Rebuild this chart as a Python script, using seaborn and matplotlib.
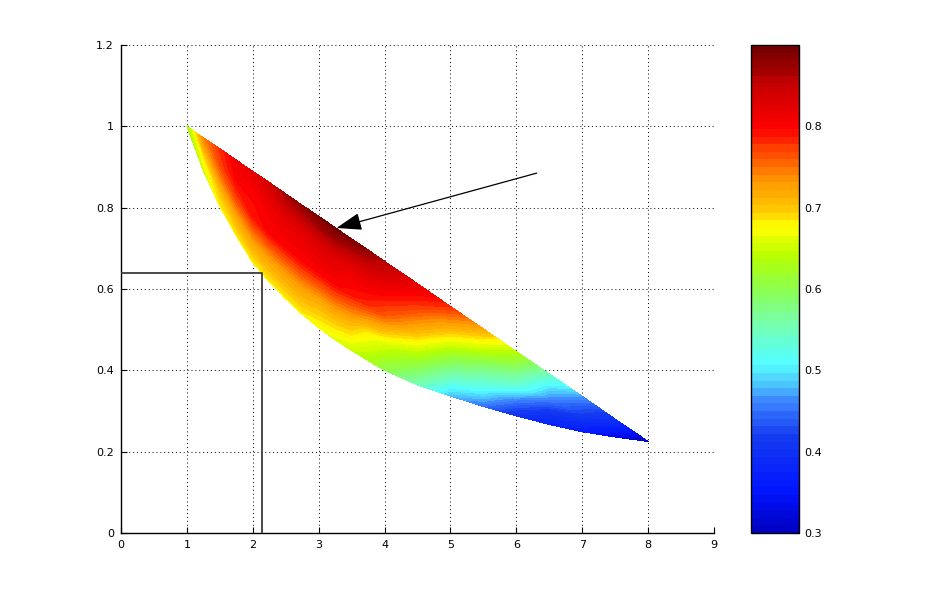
import numpy as np
import matplotlib
matplotlib.use("Agg")
import matplotlib.pyplot as plt
from matplotlib.colors import LinearSegmentedColormap
import seaborn as sns

# ---------------- data ----------------
x_stations = [1.0, 1.25, 1.5, 1.75, 2.0, 2.25, 2.5, 2.75, 3.0, 3.25, 3.5, 3.75, 4.0,
              4.5, 5.0, 5.5, 6.0, 6.5, 7.0, 7.5, 8.0]
lower_edge = [1.0, 0.891, 0.803, 0.731, 0.665, 0.617, 0.576, 0.538, 0.505, 0.475, 0.449, 0.424,
              0.400, 0.364, 0.337, 0.311, 0.288, 0.267, 0.249, 0.236, 0.225]
upper_edge = [1.0, 0.972, 0.945, 0.917, 0.889, 0.862, 0.834, 0.806, 0.779, 0.751, 0.723, 0.696,
              0.668, 0.613, 0.557, 0.502, 0.446, 0.391, 0.336, 0.280, 0.225]
fractions = [0.0, 0.25, 0.5, 0.75, 1.0]   # position across the band, lower -> upper
val_f0   = [0.62, 0.65, 0.68, 0.68, 0.68, 0.68, 0.68, 0.68, 0.67, 0.66, 0.65, 0.63, 0.60,
            0.55, 0.48, 0.45, 0.40, 0.38, 0.36, 0.33, 0.30]
val_f25  = [0.62, 0.67, 0.70, 0.72, 0.73, 0.73, 0.73, 0.73, 0.72, 0.72, 0.71, 0.68, 0.66,
            0.62, 0.56, 0.52, 0.46, 0.41, 0.39, 0.35, 0.30]
val_f50  = [0.62, 0.69, 0.74, 0.77, 0.79, 0.80, 0.80, 0.80, 0.80, 0.80, 0.79, 0.78, 0.76,
            0.70, 0.63, 0.58, 0.54, 0.46, 0.42, 0.37, 0.30]
val_f75  = [0.62, 0.72, 0.77, 0.80, 0.80, 0.81, 0.82, 0.82, 0.83, 0.83, 0.82, 0.82, 0.81,
            0.77, 0.71, 0.65, 0.59, 0.50, 0.44, 0.39, 0.30]
val_f100 = [0.62, 0.74, 0.78, 0.81, 0.82, 0.84, 0.87, 0.88, 0.89, 0.90, 0.89, 0.88, 0.86,
            0.82, 0.78, 0.72, 0.64, 0.55, 0.47, 0.40, 0.30]

cross_x = [0.0, 2.14, 2.14]
cross_y = [0.64, 0.64, 0.0]
arrow_tail = (6.31, 0.885)
arrow_head = (3.27, 0.75)

x_ticks = [0, 1, 2, 3, 4, 5, 6, 7, 8, 9]
x_labels = ["0", "1", "2", "3", "4", "5", "6", "7", "8", "9"]
y_ticks = [0, 0.2, 0.4, 0.6, 0.8, 1.0, 1.2]
y_labels = ["0", "0.2", "0.4", "0.6", "0.8", "1", "1.2"]
cbar_ticks = [0.3, 0.4, 0.5, 0.6, 0.7, 0.8]
cbar_labels = ["0.3", "0.4", "0.5", "0.6", "0.7", "0.8"]
clim = (0.3, 0.9)

# colour anchors of the reference colour bar (value, RGB 0-255)
cmap_values = [0.30, 0.35, 0.42, 0.46, 0.49, 0.51, 0.56, 0.60, 0.64, 0.675, 0.70, 0.74, 0.77, 0.80, 0.85, 0.90]
cmap_rgb = [(0, 0, 190), (0, 20, 255), (20, 60, 240), (60, 130, 255), (80, 215, 255), (85, 255, 255),
            (120, 255, 170), (140, 255, 80), (180, 255, 0), (255, 255, 0), (255, 200, 0),
            (255, 140, 0), (255, 70, 0), (255, 0, 0), (200, 0, 0), (110, 0, 0)]

# ---------------- build the curvilinear grid ----------------
xs = np.array(x_stations)
lo = np.array(lower_edge)
up = np.array(upper_edge)
fr = np.array(fractions)
X = np.repeat(xs[:, None], len(fr), axis=1)
Y = lo[:, None] + fr[None, :] * (up - lo)[:, None]
Z = np.column_stack([val_f0, val_f25, val_f50, val_f75, val_f100])

cmap = LinearSegmentedColormap.from_list(
    "ref_jet",
    [((v - clim[0]) / (clim[1] - clim[0]), tuple(c / 255 for c in rgb))
     for v, rgb in zip(cmap_values, cmap_rgb)],
    N=256)

# ---------------- figure ----------------
sns.set_theme(style="white")
plt.rcParams["font.family"] = ["DejaVu Sans"]

fig = plt.figure(figsize=(9.26, 5.99), dpi=100)
ax = fig.add_axes([121 / 926, 66 / 599, 593 / 926, 488 / 599])
cax = fig.add_axes([751 / 926, 66 / 599, 48 / 926, 488 / 599])

levels = np.linspace(clim[0], clim[1], 65)
cf = ax.contourf(X, Y, Z, levels=levels, cmap=cmap, vmin=clim[0], vmax=clim[1],
                 antialiased=False, zorder=2)

sns.lineplot(x=cross_x, y=cross_y, sort=False, estimator=None, color="#3c3c3c",
             linewidth=1.3, ax=ax, zorder=3)

ax.annotate("", xy=arrow_head, xytext=arrow_tail,
            arrowprops=dict(arrowstyle="-|>,head_length=1.3,head_width=0.45",
                            color="black", lw=0.9, shrinkA=0, shrinkB=0),
            zorder=4)

ax.set_xlim(0, 9)
ax.set_ylim(0, 1.2)
ax.set_xticks(x_ticks)
ax.set_xticklabels(x_labels)
ax.set_yticks(y_ticks)
ax.set_yticklabels(y_labels)
ax.set_xlabel("")
ax.set_ylabel("")
for s in ["top", "right"]:
    ax.spines[s].set_visible(False)
for s in ["left", "bottom"]:
    ax.spines[s].set_color("black")
    ax.spines[s].set_linewidth(1.0)
ax.tick_params(direction="in", length=4, width=0.8, labelsize=8, colors="black",
               left=True, bottom=True, top=False, right=False, pad=5)
ax.grid(True, color="black", linestyle=(0, (1, 3)), linewidth=0.7)
ax.set_axisbelow(True)

cb = fig.colorbar(cf, cax=cax, ticks=cbar_ticks)
cb.ax.set_yticklabels(cbar_labels)
cb.outline.set_linewidth(1.0)
cb.outline.set_edgecolor("black")
cax.tick_params(direction="in", length=5, width=0.8, labelsize=8, colors="black",
                left=True, right=True, pad=4)

fig.savefig("out.png", dpi=100, facecolor="white")
